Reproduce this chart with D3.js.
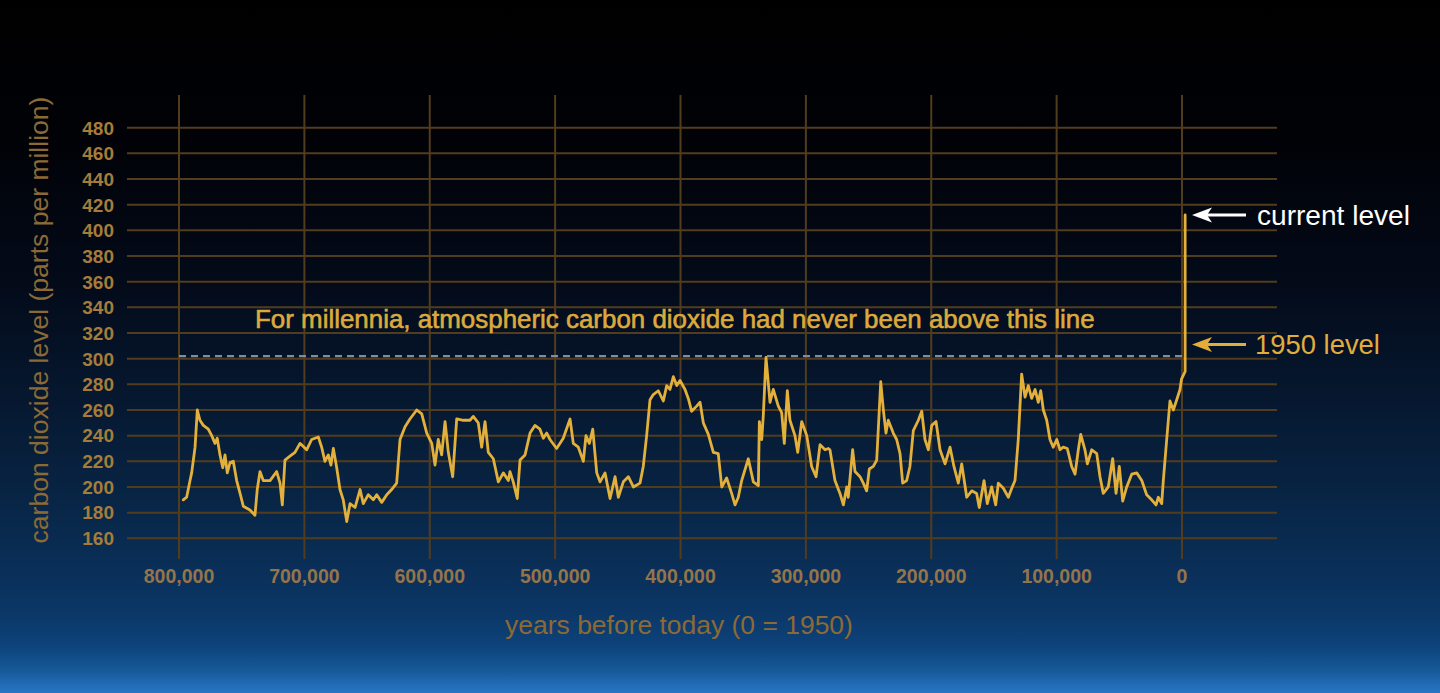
<!DOCTYPE html>
<html><head><meta charset="utf-8">
<script src="https://cdn.jsdelivr.net/npm/d3@7"></script>
<style>html,body{margin:0;padding:0;background:#000;overflow:hidden}svg{display:block}</style>
</head><body>
<svg id="chart" width="1440" height="693"></svg>
<script>
// ---- data (thousands of years before 1950, CO2 ppm) ----
const yearsKyr = [796.6,793.9,791.2,789.9,787.2,785.4,783.3,780.6,776.6,773.9,771.3,769.5,767.3,765.1,763.3,761.5,759.3,756.7,754.0,751.3,748.7,743.4,739.4,737.6,735.4,732.8,727.4,722.1,719.4,717.6,715.5,711.5,707.5,703.5,698.2,694.2,688.9,686.2,683.6,680.9,678.8,676.9,674.2,671.6,669.0,666.2,663.6,659.6,655.6,653.0,649.0,645.0,642.3,638.3,634.3,630.4,626.4,623.7,619.7,615.8,610.4,606.4,602.4,598.4,595.8,593.2,590.5,587.8,585.2,581.7,578.5,573.2,567.9,565.3,561.3,558.6,555.9,553.3,549.3,545.3,541.3,537.3,536.0,533.4,530.2,528.0,524.0,520.0,516.1,512.1,509.4,506.7,504.1,498.8,493.5,488.1,485.5,481.5,477.5,475.4,472.7,470.0,466.8,464.2,460.2,456.2,452.2,449.6,445.6,441.6,437.6,432.3,429.7,427.0,424.3,421.7,417.7,413.7,411.0,408.4,405.7,403.0,400.4,396.4,393.8,391.1,387.1,384.4,381.8,377.8,373.8,369.9,367.1,363.2,359.2,356.5,353.9,351.2,345.9,341.9,337.9,337.1,335.2,334.0,331.8,328.6,326.0,322.0,319.3,317.2,314.8,312.7,308.7,306.5,303.3,299.3,295.4,291.9,288.7,284.7,282.1,280.8,276.8,272.8,270.1,267.4,266.2,262.7,260.8,256.8,254.2,251.5,249.4,246.2,243.5,240.3,238.2,236.1,234.3,230.3,227.6,224.9,222.8,219.6,217.0,214.3,210.3,207.6,205.0,202.3,199.6,196.2,193.0,189.0,185.0,181.9,178.4,175.7,171.7,167.7,163.8,161.7,157.9,155.3,151.8,148.6,146.5,142.5,138.5,135.8,133.2,130.6,127.9,125.2,122.6,119.9,117.2,114.6,112.7,110.6,107.9,105.3,102.7,99.9,97.3,94.7,91.5,88.0,85.3,82.7,80.8,77.4,75.5,72.0,68.0,65.4,62.8,58.8,55.3,52.6,50.0,47.3,44.1,40.1,36.1,32.1,28.2,24.2,20.7,18.9,16.2,14.9,12.2,9.6,6.9,4.2,1.6,0.4,-2.5,-2.5];
const co2Ppm = [190,192,205,211,231,260,252,248,245,240,234,238,225,215,225,211,219,220,205,195,185,182,178,198,212,205,205,212,203,186,221,224,227,234,229,237,239,231,220,225,217,230,215,198,190,173,187,184,198,187,194,190,194,188,194,198,203,237,247,253,260,257,242,234,217,237,225,251,227,208,253,252,252,255,250,231,251,227,222,204,211,205,212,204,191,221,225,242,248,245,238,242,237,230,238,253,234,231,220,240,234,245,211,204,211,191,208,192,204,208,200,203,216,240,268,272,275,267,279,276,286,279,283,276,269,259,263,266,250,241,227,226,200,207,195,186,192,205,222,204,201,251,237,255,301,266,276,263,258,234,275,252,240,227,251,240,216,208,233,229,230,229,205,195,186,200,192,229,212,208,203,197,214,216,221,282,260,242,252,242,237,226,203,205,216,244,252,259,237,229,248,251,229,218,231,216,203,218,192,197,195,184,205,187,200,186,203,199,192,199,205,237,288,270,279,269,276,266,275,260,252,237,231,237,229,231,230,216,210,229,241,229,218,229,226,208,195,200,222,195,216,189,200,210,211,205,194,190,186,192,187,205,237,267,260,268,276,284,290,412];

const yTicks = [160,180,200,220,240,260,280,300,320,340,360,380,400,420,440,460,480];
const xTicks = [800,700,600,500,400,300,200,100,0];
const xTickLabels = ["800,000","700,000","600,000","500,000","400,000","300,000","200,000","100,000","0"];
const thresholdPpm = 302;
const currentPpm = 412;
const level1950Ppm = 311;
const annotationText = "For millennia, atmospheric carbon dioxide had never been above this line";
const yTitle = "carbon dioxide level (parts per million)";
const xTitle = "years before today (0 = 1950)";

// ---- layout ----
const W = 1440, H = 693;
const svg = d3.select("#chart");
const FONT = "'Liberation Sans', Arial, Helvetica, sans-serif";

const x = d3.scaleLinear().domain([800, 0]).range([179, 1182]);
const y = d3.scaleLinear().domain([160, 480]).range([538.3, 127.7]);

// background
const defs = svg.append("defs");
const bg = defs.append("linearGradient").attr("id","bg").attr("x1",0).attr("x2",0).attr("y1",0).attr("y2",1);
[[0,"#000000"],[0.2,"#010207"],[0.4,"#030a18"],[0.58,"#061830"],[0.72,"#082545"],[0.82,"#0a2f58"],[0.88,"#0b3665"],[0.93,"#0d427a"],[0.965,"#155796"],[1,"#2876c6"]]
  .forEach(([o,c]) => bg.append("stop").attr("offset",o).attr("stop-color",c));
svg.append("rect").attr("width",W).attr("height",H).attr("fill","url(#bg)");

const gridColor = "#523c1e";
const g = svg.append("g");

// horizontal gridlines
g.selectAll("line.h").data(yTicks).join("line")
  .attr("x1", 127).attr("x2", 1277)
  .attr("y1", d => y(d)).attr("y2", d => y(d))
  .attr("stroke", gridColor).attr("stroke-width", 2);

// vertical gridlines
g.selectAll("line.v").data(xTicks).join("line")
  .attr("x1", d => x(d)).attr("x2", d => x(d))
  .attr("y1", 95).attr("y2", 559)
  .attr("stroke", gridColor).attr("stroke-width", 2);

// y tick labels
g.selectAll("text.yt").data(yTicks).join("text")
  .attr("x", 114).attr("y", d => y(d)).attr("dy","0.36em")
  .attr("text-anchor","end")
  .attr("font-family", FONT).attr("font-weight","bold").attr("font-size", 19)
  .attr("fill","#a57c3a")
  .text(d => d);

// x tick labels
g.selectAll("text.xt").data(xTicks).join("text")
  .attr("x", d => x(d)).attr("y", 583)
  .attr("text-anchor","middle")
  .attr("font-family", FONT).attr("font-weight","bold").attr("font-size", 19.5)
  .attr("fill","#94744a")
  .text((d,i) => xTickLabels[i]);

// threshold dashed line
g.append("line")
  .attr("x1", x(800)).attr("x2", x(0))
  .attr("y1", y(thresholdPpm)).attr("y2", y(thresholdPpm))
  .attr("stroke","#838c9e").attr("stroke-width",2.2).attr("stroke-dasharray","7,5");

// data line
const pts = yearsKyr.map((d,i) => [d, co2Ppm[i]]);
g.append("path")
  .datum(pts)
  .attr("d", d3.line().x(d => x(d[0])).y(d => y(d[1])))
  .attr("fill","none").attr("stroke","#e3b03c").attr("stroke-width",2.8)
  .attr("stroke-linejoin","round").attr("stroke-linecap","round");

// text helper: fit to width
function fit(sel, width) {
  const n = sel.node();
  const w = n.getComputedTextLength();
  const fs = parseFloat(sel.attr("font-size"));
  sel.attr("font-size", fs * width / w);
  return sel;
}

// annotation
fit(g.append("text").attr("x", 255).attr("y", 328)
  .attr("font-family", FONT).attr("font-size", 21).attr("fill","#dcaa3c")
  .attr("stroke","#dcaa3c").attr("stroke-width",0.6)
  .text(annotationText), 840);

// axis titles
fit(g.append("text").attr("transform","translate(48,320) rotate(-90)")
  .attr("text-anchor","middle")
  .attr("font-family", FONT).attr("font-size", 21).attr("fill","#8c6a35")
  .text(yTitle), 447);
fit(g.append("text").attr("x", 679).attr("y", 634)
  .attr("text-anchor","middle")
  .attr("font-family", FONT).attr("font-size", 22).attr("fill","#8c6a35")
  .text(xTitle), 348);

// arrows + labels
function arrow(yv, color) {
  const yy = y(yv);
  const tip = 1192;
  g.append("line").attr("x1", tip + 12).attr("x2", 1246).attr("y1", yy).attr("y2", yy)
    .attr("stroke", color).attr("stroke-width", 3);
  g.append("path")
    .attr("d", `M${tip},${yy} L${tip+20},${yy-7.5} L${tip+15},${yy} L${tip+20},${yy+7.5} Z`)
    .attr("fill", color);
}
arrow(currentPpm, "#ffffff");
arrow(level1950Ppm, "#e2ad3a");
fit(g.append("text").attr("x", 1257).attr("y", y(currentPpm) + 10)
  .attr("font-family", FONT).attr("font-size", 23).attr("fill","#ffffff")
  .text("current level"), 153);
fit(g.append("text").attr("x", 1255).attr("y", y(level1950Ppm) + 9.5)
  .attr("font-family", FONT).attr("font-size", 23).attr("fill","#e2ad3a")
  .text("1950 level"), 125);
</script>
</body></html>
